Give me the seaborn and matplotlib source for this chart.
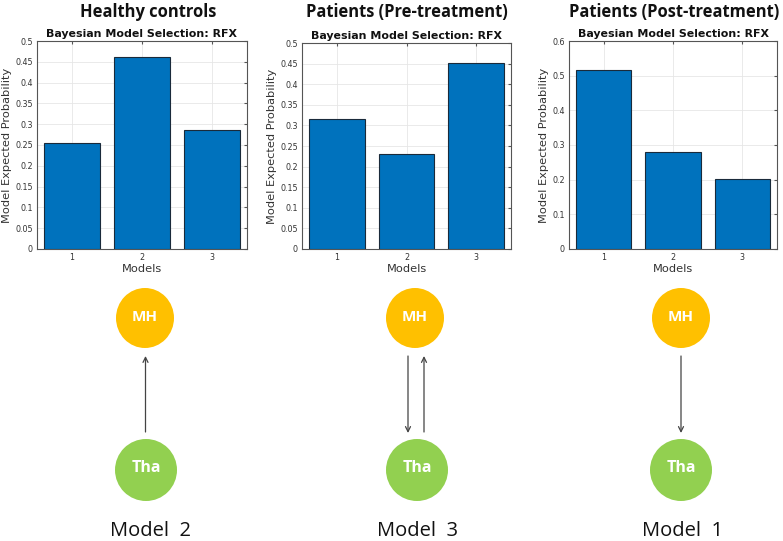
import numpy as np
import pandas as pd
import seaborn as sns
import matplotlib.pyplot as plt
from matplotlib.patches import Ellipse

models = ['1', '2', '3']
healthy = [0.254, 0.461, 0.285]
pre_treatment = [0.316, 0.231, 0.452]
post_treatment = [0.516, 0.281, 0.202]

titles = ['Healthy controls', 'Patients (Pre-treatment)', 'Patients (Post-treatment)']
winners = ['Model  2', 'Model  3', 'Model  1']
ymax = [0.5, 0.5, 0.6]
ystep = [0.05, 0.05, 0.1]
# arrow directions per panel: 'up' = Tha -> MH, 'down' = MH -> Tha
arrows = [['up'], ['down', 'up'], ['down']]

sns.set_style('whitegrid')
plt.rcParams['font.family'] = ['DejaVu Sans']

W, H = 783, 541
fig = plt.figure(figsize=(W / 100, H / 100), dpi=100)

# axes boxes in pixels: left, top, right, bottom
boxes = [(37, 41, 247, 249), (302, 43, 511, 249), (569, 41, 777, 249)]
series = [healthy, pre_treatment, post_treatment]

for i in range(3):
    l, t, r, b = boxes[i]
    ax = fig.add_axes([l / W, 1 - b / H, (r - l) / W, (b - t) / H])
    df = pd.DataFrame({'model': models, 'prob': series[i]})
    sns.barplot(data=df, x='model', y='prob', color='#0072BD', saturation=1,
                width=0.8, edgecolor='#1a2a3a', linewidth=0.8, ax=ax, zorder=3)
    ax.set_xlim(-0.5, 2.5)
    ax.set_ylim(0, ymax[i])
    yt = np.round(np.arange(0, ymax[i] + 1e-9, ystep[i]), 2)
    ax.set_yticks(yt)
    ax.set_yticklabels(['%g' % v for v in yt])
    ax.tick_params(axis='both', labelsize=5.8, colors='#333333', length=2.5,
                   direction='in', top=True, right=True, pad=3)
    ax.tick_params(axis='both', color='#555555')
    ax.grid(True, color='#e6e6e6', linewidth=0.6, zorder=0)
    for s in ax.spines.values():
        s.set_color('#555555')
        s.set_linewidth(0.8)
    ax.set_xlabel('Models', fontsize=8.2, color='#333333', labelpad=1)
    ax.set_ylabel('Model Expected Probability', fontsize=8.2, color='#333333', labelpad=2)
    ax.set_title('Bayesian Model Selection: RFX', fontsize=7.9, fontweight='bold',
                 color='#111111', pad=3)

# overlay for headings and model diagrams, pixel coordinates
ov = fig.add_axes([0, 0, 1, 1])
ov.set_xlim(0, W)
ov.set_ylim(H, 0)
ov.axis('off')

title_x = [148, 407, 674]
node_x = [(145, 146), (415, 417), (681, 681)]
label_x = [150, 418, 683]

for i in range(3):
    ov.text(title_x[i], 12, titles[i], fontsize=11.9, fontweight='bold',
            family=['Open Sans', 'DejaVu Sans'], ha='center', va='center', color='#111111')
    mx, tx = node_x[i]
    ov.add_patch(Ellipse((mx, 318), 58, 60, color='#FFC000', ec='none'))
    ov.add_patch(Ellipse((tx, 470), 62, 62, color='#92D050', ec='none'))
    ov.text(mx, 317, 'MH', fontsize=11, fontweight='bold', color='white',
            family=['Open Sans', 'DejaVu Sans'], ha='center', va='center')
    ov.text(tx, 468, 'Tha', fontsize=11.5, fontweight='bold', color='white',
            family=['Open Sans', 'DejaVu Sans'], ha='center', va='center')
    dirs = arrows[i]
    if len(dirs) == 1:
        xs = [(mx + tx) / 2]
    else:
        xs = [mx - 7, mx + 9]
    for x, d in zip(xs, dirs):
        if d == 'up':
            start, end = (x, 432), (x, 356)
        else:
            start, end = (x, 356), (x, 433)
        ov.annotate('', xy=end, xytext=start,
                    arrowprops=dict(arrowstyle='->', color='#444444', lw=0.9,
                                    mutation_scale=9, shrinkA=0, shrinkB=0))
    ov.text(label_x[i], 531, winners[i], fontsize=14.5, color='#111111',
            family=['Open Sans', 'DejaVu Sans'], ha='center', va='center')

fig.savefig('out.png', dpi=100)
